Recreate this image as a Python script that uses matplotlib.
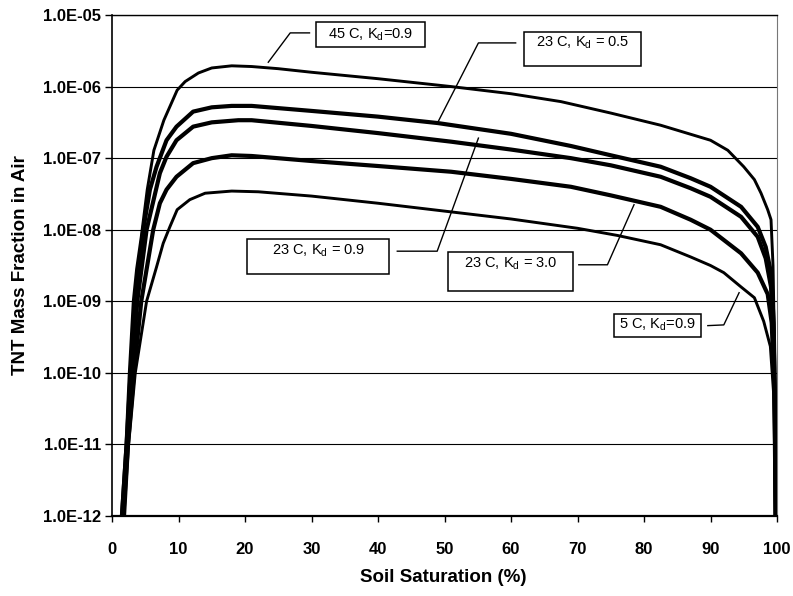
import numpy as np
import matplotlib
matplotlib.use("Agg")
import matplotlib.pyplot as plt
from matplotlib.patches import Rectangle
from matplotlib.ticker import FuncFormatter, NullLocator, MultipleLocator

plt.rcParams['font.family'] = ['Liberation Sans', 'DejaVu Sans']

# soil saturation (%) and log10 of TNT mass fraction in air, one set per case
sat_45c_09 = [1.4, 2.1, 2.6, 3.2, 3.7, 4.4, 5.3, 6.3, 7.8, 9.8, 11.0, 13.0, 15.0, 18.0, 21.0, 25.0, 30.0,
              40.0, 51.0, 60.0, 67.5, 75.0, 82.5, 87.5, 90.0, 92.6, 95.0, 96.6, 97.6, 98.6, 99.1, 99.4,
              99.6, 99.75, 99.85]
log_45c_09 = [-12.0, -11.0, -10.0, -9.0, -8.55, -8.1, -7.44, -6.89, -6.47, -6.05, -5.93, -5.81, -5.74,
              -5.71, -5.72, -5.75, -5.80, -5.89, -6.00, -6.10, -6.21, -6.37, -6.54, -6.68, -6.75, -6.89,
              -7.12, -7.30, -7.49, -7.72, -7.86, -8.5, -9.5, -10.6, -12.0]

sat_23c_05 = [1.5, 2.2, 2.8, 3.5, 4.7, 5.7, 6.7, 8.2, 9.7, 12.2, 15.0, 18.0, 21.0, 30.0, 40.0, 49.0, 60.0,
              69.0, 75.0, 82.5, 87.0, 90.0, 94.6, 97.1, 98.3, 99.1, 99.5, 99.7, 99.8]
log_23c_05 = [-12.0, -11.0, -10.0, -9.0, -8.0, -7.44, -7.12, -6.75, -6.56, -6.35, -6.29, -6.27, -6.27,
              -6.34, -6.42, -6.51, -6.66, -6.83, -6.96, -7.12, -7.28, -7.40, -7.68, -7.96, -8.24, -8.6,
              -9.3, -10.5, -12.0]

sat_23c_09 = [1.6, 2.3, 3.0, 3.8, 5.2, 7.2, 8.2, 9.7, 12.2, 15.0, 19.0, 21.0, 30.0, 40.0, 51.0, 60.0,
              69.0, 75.0, 82.5, 87.0, 90.0, 94.6, 97.1, 98.3, 99.1, 99.5, 99.7, 99.8]
log_23c_09 = [-12.0, -11.0, -10.0, -9.0, -8.0, -7.21, -6.98, -6.75, -6.56, -6.50, -6.47, -6.47, -6.55,
              -6.65, -6.77, -6.88, -7.00, -7.10, -7.26, -7.42, -7.54, -7.82, -8.10, -8.4, -8.8, -9.5,
              -10.6, -12.0]

sat_23c_30 = [1.7, 2.4, 3.3, 4.4, 6.2, 7.2, 8.2, 9.7, 12.2, 15.0, 18.0, 21.0, 30.0, 40.0, 51.0, 60.0,
              69.0, 75.0, 82.5, 87.0, 90.0, 94.6, 97.1, 98.6, 99.2, 99.6, 99.8]
log_23c_30 = [-12.0, -11.0, -10.0, -9.0, -8.0, -7.63, -7.44, -7.26, -7.07, -7.00, -6.96, -6.97, -7.04,
              -7.11, -7.19, -7.29, -7.40, -7.52, -7.68, -7.86, -8.0, -8.33, -8.6, -8.9, -9.3, -10.2, -12.0]

sat_5c_09 = [1.9, 2.5, 3.5, 5.2, 6.7, 7.7, 8.7, 9.8, 11.7, 14.0, 18.0, 22.0, 30.0, 40.0, 50.0, 60.0, 70.0,
             76.0, 82.5, 87.0, 90.0, 92.0, 94.6, 96.6, 98.0, 99.0, 99.5, 99.8]
log_5c_09 = [-12.0, -11.0, -10.0, -9.0, -8.52, -8.19, -7.96, -7.72, -7.58, -7.49, -7.46, -7.47, -7.53,
             -7.63, -7.74, -7.85, -7.98, -8.08, -8.21, -8.38, -8.5, -8.6, -8.8, -8.95, -9.28, -9.63, -10.3,
             -12.0]

curves = [
    (sat_45c_09, log_45c_09, 2.1),
    (sat_23c_05, log_23c_05, 3.0),
    (sat_23c_09, log_23c_09, 3.0),
    (sat_23c_30, log_23c_30, 3.0),
    (sat_5c_09, log_5c_09, 2.1),
]

fig = plt.figure(figsize=(7.93, 5.96), dpi=100)
ax = fig.add_axes([112 / 793, 80 / 596, 665 / 793, 501 / 596])

for sat, lg, lw in curves:
    ax.plot(sat, 10.0 ** np.array(lg), color='black', lw=lw, solid_joinstyle='round', zorder=3)

ax.set_yscale('log')
ax.set_xlim(0, 100)
ax.set_ylim(1e-12, 1e-5)
ax.xaxis.set_major_locator(MultipleLocator(10))
ax.yaxis.set_minor_locator(NullLocator())
ax.yaxis.set_major_formatter(FuncFormatter(lambda v, p: f"{v:.1E}"))
ax.yaxis.grid(True, color='black', lw=0.8)
ax.set_axisbelow(True)

ax.spines['left'].set_linewidth(1.2)
ax.spines['bottom'].set_linewidth(1.6)
ax.spines['top'].set_linestyle((0, (2, 1)))
ax.spines['top'].set_linewidth(1.0)
ax.spines['right'].set_linestyle((0, (1, 1)))
ax.spines['right'].set_color('#777777')

ax.tick_params(axis='y', direction='out', length=5, width=1, pad=3, labelsize=12)
ax.tick_params(axis='x', direction='out', length=4, width=1, pad=15, labelsize=12)
for lab in ax.get_xticklabels() + ax.get_yticklabels():
    lab.set_fontweight('bold')

fig.text(443 / 793, 1 - 578 / 596, 'Soil Saturation (%)', fontsize=13.5, fontweight='bold',
         ha='center', va='center')
fig.text(21 / 793, 1 - 265 / 596, 'TNT Mass Fraction in Air', fontsize=13.5, fontweight='bold',
         ha='center', va='center', rotation=90)

# labelled boxes: (x0, x1, log y bottom, log y top, text log y, text)
boxes = [
    (30.7, 47.1, -5.447, -5.098, -5.27, '45 C, $\\mathregular{K_d}$=0.9'),
    (62.0, 79.5, -5.712, -5.237, -5.39, '23 C, $\\mathregular{K_d}$ = 0.5'),
    (20.3, 41.7, -8.617, -8.128, -8.30, '23 C, $\\mathregular{K_d}$ = 0.9'),
    (50.5, 69.3, -8.855, -8.310, -8.48, '23 C, $\\mathregular{K_d}$ = 3.0'),
    (75.5, 88.6, -9.497, -9.176, -9.33, '5 C, $\\mathregular{K_d}$=0.9'),
]
leaders = [
    ([29.7, 26.8, 23.5], [-5.25, -5.25, -5.66]),
    ([60.7, 55.1, 49.1], [-5.39, -5.39, -6.48]),
    ([42.9, 48.9, 55.1], [-8.30, -8.30, -6.72]),
    ([70.2, 74.5, 78.5], [-8.49, -8.49, -7.65]),
    ([89.6, 92.0, 94.3], [-9.34, -9.33, -8.88]),
]

for x0, x1, yb, yt, ty, txt in boxes:
    ax.add_patch(Rectangle((x0, 10 ** yb), x1 - x0, 10 ** yt - 10 ** yb,
                           facecolor='white', edgecolor='black', lw=1.1, zorder=5))
    ax.text((x0 + x1) / 2, 10 ** ty, txt, ha='center', va='center', fontsize=10.5, zorder=6)

for lx, ly in leaders:
    ax.plot(lx, 10.0 ** np.array(ly), color='black', lw=1.0, zorder=4)

fig.savefig('out.png', dpi=100)
